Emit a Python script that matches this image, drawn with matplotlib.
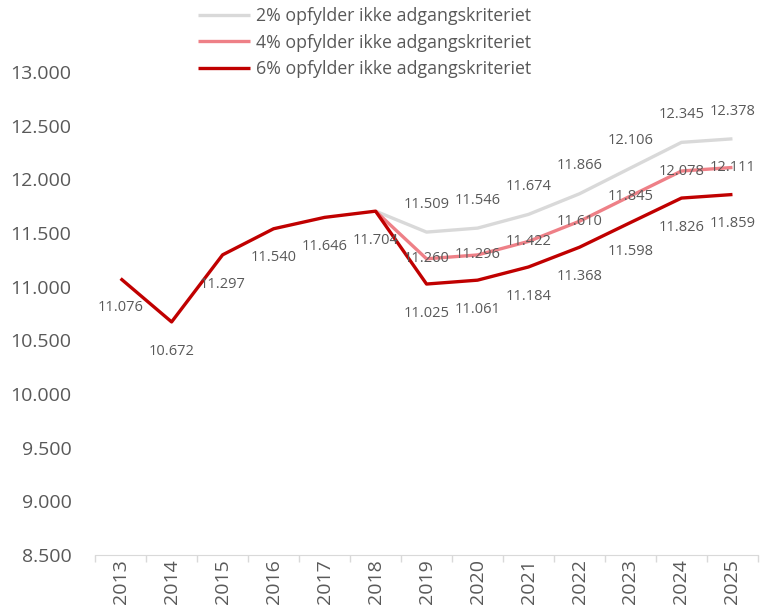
import numpy as np
import matplotlib.pyplot as plt
from matplotlib.ticker import FuncFormatter

# data
years = ['2013', '2014', '2015', '2016', '2017', '2018', '2019',
         '2020', '2021', '2022', '2023', '2024', '2025']
hist = [11076, 10672, 11297, 11540, 11646, 11704]
proj_2 = [11509, 11546, 11674, 11866, 12106, 12345, 12378]
proj_4 = [11260, 11296, 11422, 11610, 11845, 12078, 12111]
proj_6 = [11025, 11061, 11184, 11368, 11598, 11826, 11859]
names = ['2% opfylder ikke adgangskriteriet',
         '4% opfylder ikke adgangskriteriet',
         '6% opfylder ikke adgangskriteriet']

c2, c4, c6 = '#d9d9d9', '#ee8087', '#c00000'
txt = '#595959'
plt.rcParams['font.family'] = ['Open Sans', 'DejaVu Sans']

x = np.arange(len(years))
n_hist = len(hist)
xp = x[n_hist - 1:]
s2 = [hist[-1]] + proj_2
s4 = [hist[-1]] + proj_4
s6 = hist + proj_6

fig = plt.figure(figsize=(7.61, 6.16), dpi=100)
ax = fig.add_axes([0.125, 0.099, 0.871, 0.784])

lw = 2.4
ax.plot(xp, s2, color=c2, lw=lw, label=names[0], solid_capstyle='butt')
ax.plot(xp, s4, color=c4, lw=lw, label=names[1], solid_capstyle='butt')
ax.plot(x, s6, color=c6, lw=lw, label=names[2], solid_capstyle='butt')

def lab(xi, v, dy):
    ax.annotate(f'{v:,}'.replace(',', '.'), (xi, v), xytext=(0, dy),
                textcoords='offset points', ha='center', va='center',
                fontsize=10.5, color=txt, zorder=5)

for i, v in enumerate(hist):
    lab(x[i], v, -21)
for i, v in enumerate(proj_2):
    lab(x[n_hist + i], v, 20)
for i, v in enumerate(proj_4):
    lab(x[n_hist + i], v, 0)
for i, v in enumerate(proj_6):
    lab(x[n_hist + i], v, -21)

ax.set_ylim(8500, 13000)
ax.set_yticks(np.arange(8500, 13001, 500))
ax.yaxis.set_major_formatter(FuncFormatter(lambda v, p: f'{int(v):,}'.replace(',', '.')))
ax.tick_params(axis='y', length=0, pad=17, labelsize=14, labelcolor=txt)

ax.set_xlim(-0.5, len(years) - 0.5)
ax.set_xticks(np.arange(-0.5, len(years), 1.0))
ax.set_xticklabels([])
ax.set_xticks(x, minor=True)
ax.set_xticklabels(years, minor=True, rotation=90)
ax.tick_params(axis='x', which='major', length=5, color='#d9d9d9', width=1)
ax.tick_params(axis='x', which='minor', length=0, pad=3, labelsize=14, labelcolor=txt)

for s in ['left', 'right', 'top']:
    ax.spines[s].set_visible(False)
ax.spines['bottom'].set_color('#d9d9d9')

fig.legend(loc='upper left', bbox_to_anchor=(198 / 761, 1 - 7 / 616), frameon=False,
           fontsize=12.8, handlelength=2.9, handletextpad=0.35, labelspacing=0.48,
           borderpad=0, borderaxespad=0, labelcolor=txt)

fig.savefig('out.png', dpi=100)
